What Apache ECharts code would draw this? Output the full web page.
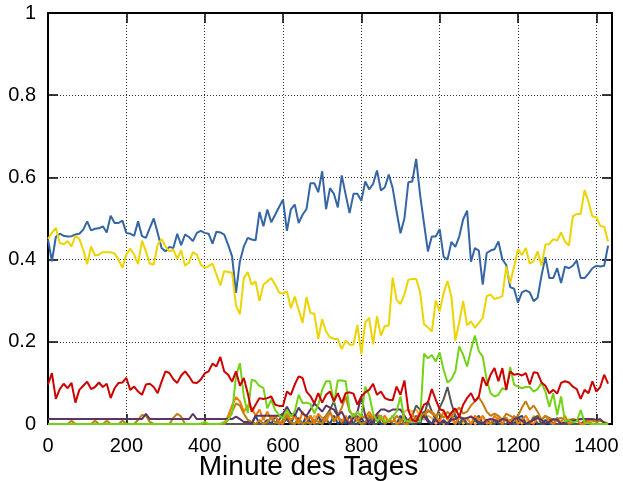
<!DOCTYPE html>
<html>
<head>
<meta charset="utf-8">
<script src="https://cdn.jsdelivr.net/npm/echarts@6/dist/echarts.min.js"></script>
<style>html,body{margin:0;padding:0;background:#fff}#c{width:623px;height:481px}</style>
</head>
<body>
<div id="c"></div>
<script>
const minutes = [0,10,20,30,40,50,60,70,80,90,100,110,120,130,140,150,160,170,180,190,200,210,220,230,240,250,260,270,280,290,300,310,320,330,340,350,360,370,380,390,400,410,420,430,440,450,460,470,480,490,500,510,520,530,540,550,560,570,580,590,600,610,620,630,640,650,660,670,680,690,700,710,720,730,740,750,760,770,780,790,800,810,820,830,840,850,860,870,880,890,900,910,920,930,940,950,960,970,980,990,1000,1010,1020,1030,1040,1050,1060,1070,1080,1090,1100,1110,1120,1130,1140,1150,1160,1170,1180,1190,1200,1210,1220,1230,1240,1250,1260,1270,1280,1290,1300,1310,1320,1330,1340,1350,1360,1370,1380,1390,1400,1410,1420,1430];

const blue = [0.449,0.396,0.455,0.463,0.458,0.456,0.457,0.461,0.463,0.473,
0.493,0.471,0.475,0.476,0.481,0.466,0.507,0.489,0.489,0.495,
0.465,0.463,0.458,0.493,0.457,0.453,0.477,0.5,0.465,0.428,
0.42,0.431,0.428,0.463,0.435,0.461,0.455,0.445,0.465,0.47,
0.465,0.463,0.439,0.468,0.466,0.461,0.436,0.408,0.319,0.396,
0.432,0.453,0.449,0.447,0.516,0.481,0.522,0.491,0.509,0.528,
0.546,0.47,0.522,0.534,0.489,0.509,0.523,0.586,0.586,0.564,
0.615,0.523,0.574,0.56,0.527,0.605,0.558,0.513,0.56,0.56,
0.543,0.59,0.571,0.584,0.617,0.568,0.576,0.607,0.574,0.517,
0.464,0.5,0.588,0.59,0.645,0.558,0.488,0.42,0.456,0.456,
0.474,0.407,0.4,0.443,0.431,0.456,0.498,0.519,0.395,0.428,
0.422,0.339,0.416,0.422,0.425,0.444,0.401,0.387,0.333,0.329,
0.295,0.32,0.325,0.32,0.299,0.307,0.361,0.406,0.355,0.355,
0.379,0.343,0.383,0.379,0.385,0.398,0.355,0.355,0.366,0.379,
0.385,0.383,0.385,0.434];

const yellow = [0.45,0.465,0.477,0.441,0.437,0.445,0.432,0.458,0.45,0.424,
0.389,0.432,0.41,0.412,0.418,0.418,0.418,0.415,0.4,0.38,
0.412,0.427,0.412,0.389,0.446,0.42,0.39,0.388,0.436,0.45,
0.432,0.42,0.424,0.402,0.423,0.385,0.393,0.418,0.412,0.388,
0.38,0.384,0.39,0.364,0.337,0.372,0.37,0.368,0.288,0.267,
0.355,0.37,0.339,0.347,0.299,0.339,0.347,0.355,0.339,0.32,
0.317,0.323,0.282,0.31,0.278,0.246,0.309,0.27,0.268,0.207,
0.255,0.225,0.211,0.207,0.207,0.182,0.203,0.193,0.193,0.241,
0.17,0.247,0.258,0.194,0.262,0.215,0.239,0.239,0.356,0.302,
0.292,0.315,0.351,0.353,0.353,0.321,0.243,0.235,0.225,0.3,
0.274,0.318,0.348,0.31,0.203,0.247,0.299,0.24,0.25,0.234,
0.246,0.258,0.311,0.315,0.304,0.307,0.311,0.383,0.343,0.383,
0.425,0.411,0.428,0.39,0.396,0.42,0.385,0.436,0.438,0.45,
0.446,0.466,0.444,0.434,0.505,0.511,0.511,0.569,0.541,0.505,
0.503,0.482,0.48,0.444];

const red = [0.096,0.124,0.061,0.085,0.098,0.087,0.1,0.052,0.083,0.093,
0.103,0.085,0.09,0.101,0.09,0.098,0.063,0.087,0.1,0.101,
0.112,0.083,0.091,0.079,0.071,0.096,0.098,0.09,0.075,0.103,
0.128,0.124,0.109,0.1,0.118,0.128,0.116,0.101,0.1,0.108,
0.123,0.128,0.147,0.14,0.163,0.128,0.12,0.103,0.128,0.093,
0.112,0.075,0.03,0.047,0.063,0.061,0.063,0.067,0.047,0.044,
0.044,0.079,0.071,0.096,0.116,0.112,0.079,0.068,0.05,0.075,
0.052,0.071,0.079,0.055,0.075,0.051,0.075,0.077,0.074,0.047,
0.067,0.077,0.083,0.098,0.071,0.079,0.063,0.059,0.058,0.091,
0.071,0.106,0.034,0.01,0.006,0.026,0.047,0.052,0.085,0.059,
0.036,0.033,0.014,0.028,0.038,0.018,0.047,0.063,0.075,0.055,
0.067,0.114,0.093,0.12,0.136,0.104,0.136,0.083,0.128,0.12,
0.122,0.118,0.124,0.096,0.126,0.124,0.101,0.093,0.075,0.083,
0.074,0.1,0.104,0.101,0.091,0.085,0.061,0.083,0.075,0.104,
0.079,0.09,0.12,0.098];

const green = [0,0,0,0,0,0,0,0,0,0,
0,0,0,0,0,0,0,0,0,0,
0,0,0,0,0,0,0,0,0,0,
0,0,0,0,0,0,0,0,0,0,
0.005,0,0,0,0,0.005,0.01,0.027,0.116,0.148,
0.067,0.027,0.108,0.104,0.092,0.088,0.038,0.059,0.034,0.022,
0.014,0.034,0.018,0.03,0.071,0.051,0.052,0.049,0.026,0.047,
0.083,0.104,0.104,0.051,0.106,0.106,0.104,0.034,0.018,0.03,
0.018,0.091,0.071,0.026,0.006,0.018,0.006,0.01,0.018,0.03,
0.067,0.01,0.006,0.004,0.006,0.006,0.171,0.16,0.168,0.152,
0.174,0.132,0.101,0.109,0.128,0.189,0.168,0.14,0.181,0.215,
0.177,0.164,0.108,0.075,0.067,0.071,0.087,0.083,0.138,0.096,
0.091,0.087,0.09,0.09,0.079,0.085,0.1,0.079,0.042,0.075,
0.022,0.067,0.006,0.01,0.004,0.006,0.034,0.004,0.002,0,
0,0,0,0];

const purple = [0.012,0.012,0.012,0.012,0.012,0.012,0.012,0.012,0.012,0.012,
0.012,0.012,0.012,0.012,0.012,0.012,0.012,0.012,0.012,0.012,
0.012,0.012,0.012,0.012,0.012,0.025,0.012,0.012,0.012,0.012,
0.012,0.012,0.012,0.012,0.012,0.012,0.012,0.025,0.012,0.012,
0.012,0.012,0.012,0.012,0.012,0.012,0.012,0.012,0.018,0.012,
0.005,0.005,0,0.02,0.02,0.02,0.02,0.02,0.02,0.02,
0.025,0.042,0.025,0.02,0.04,0.025,0.02,0.035,0.05,0.04,
0.03,0.045,0.04,0.035,0.02,0.03,0.01,0,0.015,0.03,
0.066,0.02,0,0.005,0.025,0.035,0.035,0.03,0.035,0.035,
0.035,0.02,0.005,0,0,0.01,0.02,0.005,0,0.01,
0,0.005,0,0.01,0.012,0.018,0.012,0.015,0.018,0.012,
0.005,0,0.01,0.012,0.01,0.005,0.012,0.01,0,0.012,
0.015,0.008,0,0.005,0.01,0.015,0.01,0,0.005,0.012,
0.01,0,0.005,0.01,0.008,0.01,0.012,0.012,0.012,0.012,
0.01,0.012,0.002,0];

const brown = [0,0,0,0,0,0,0.008,0,0,0,
0,0,0.008,0,0,0.008,0,0,0,0.008,
0,0,0,0.01,0.022,0.02,0.005,0,0,0,
0,0,0.015,0.025,0.018,0,0,0,0,0,
0,0,0,0,0,0,0.01,0.03,0.05,0.045,
0.025,0.01,0.005,0,0.01,0,0.005,0.015,0.005,0,
0.01,0.02,0.005,0,0.01,0,0.005,0,0.01,0.005,
0,0.02,0.03,0.005,0.02,0.04,0.067,0.03,0.02,0.01,
0,0.005,0.02,0.01,0.02,0.02,0,0.01,0.005,0.02,
0.01,0,0,0.01,0.015,0.02,0.025,0.03,0.03,0.02,
0.025,0.015,0.03,0.02,0.03,0.04,0.025,0.03,0.045,0.055,
0.065,0.05,0.03,0.02,0.025,0.02,0.01,0.025,0.02,0.015,
0.02,0.04,0.055,0.035,0.045,0.03,0.01,0.02,0.015,0.01,
0.012,0.015,0.01,0.01,0.012,0.01,0.012,0.01,0.01,0.008,
0.005,0.008,0.005,0];

const orange = [0,0,0,0,0,0,0,0,0,0,
0,0,0,0,0,0,0,0,0,0,
0,0,0,0,0,0,0,0,0,0,
0,0,0,0,0,0,0,0,0,0,
0,0,0,0,0,0,0.02,0.045,0.065,0.055,
0.03,0.045,0.04,0.02,0.035,0.01,0.03,0.01,0.02,0.005,
0,0.025,0.01,0.02,0,0.03,0.01,0.02,0,0.025,
0.015,0.005,0.03,0.01,0.02,0.005,0.02,0,0.025,0.01,
0.02,0.015,0.03,0.015,0.025,0.01,0.02,0.005,0.02,0,
0.005,0.02,0,0.025,0.01,0.03,0.015,0.035,0.025,0.02,
0.005,0.03,0.01,0.025,0,0.02,0.01,0.015,0,0.02,
0.01,0.02,0.005,0,0.02,0.01,0,0.015,0.005,0.02,
0,0.01,0.02,0.005,0,0.015,0.01,0.02,0.005,0,
0.01,0.005,0.02,0,0.005,0.01,0,0,0.005,0,
0,0,0,0];

const grey = [0,0,0,0,0,0,0,0,0,0,
0,0,0,0,0,0,0,0,0,0,
0,0,0,0,0,0,0,0,0,0,
0,0,0,0,0,0,0,0,0,0,
0,0,0,0,0,0,0,0,0,0,
0,0,0,0,0,0,0,0,0,0.01,
0.022,0.01,0,0,0.015,0,0,0.02,0,0,
0.01,0.02,0.035,0.055,0.02,0,0.01,0,0,0.02,
0,0,0.02,0,0,0.015,0,0.01,0,0,
0,0,0.01,0.02,0.045,0.035,0.02,0.055,0.03,0.01,
0.04,0.06,0.09,0.05,0.02,0,0.01,0,0,0.01,
0.02,0,0.005,0,0,0.012,0,0,0.01,0,
0,0.012,0,0,0.015,0.02,0,0,0.012,0,
0,0,0,0.01,0,0,0,0.008,0,0,
0,0,0,0];

const navy = [0,0,0,0,0,0,0,0,0,0,
0,0,0,0,0,0,0,0,0,0,
0,0,0,0,0,0,0,0,0,0,
0,0,0,0,0,0,0,0,0,0,
0,0,0,0,0,0,0,0,0,0,
0,0,0,0.02,0,0,0.01,0,0.02,0,
0,0.015,0,0.025,0,0,0.02,0.005,0,0.02,
0,0.01,0,0.02,0,0.01,0,0.02,0,0,
0.015,0,0.01,0,0.02,0,0,0.01,0,0,
0.02,0,0.01,0,0.02,0,0.03,0.01,0,0.02,
0,0.01,0,0.015,0.02,0,0.015,0,0,0.01,
0,0,0.01,0,0.01,0,0,0.015,0,0,
0.015,0.02,0,0,0.015,0,0,0.01,0,0,
0.015,0,0,0,0,0,0,0,0,0,
0,0,0,0];

const lightOrange = [0,0,0,0,0,0,0,0,0,0,
0,0,0,0,0,0,0,0,0,0,
0,0,0,0,0,0,0,0,0,0,
0,0,0,0,0,0,0,0,0,0,
0,0,0,0,0,0,0,0,0,0,
0,0,0,0,0,0.015,0,0.02,0,0.01,
0.025,0.01,0,0.02,0.01,0,0.015,0,0.02,0.01,
0,0.015,0,0.02,0.01,0.005,0.015,0,0.025,0,
0.01,0.02,0.025,0.01,0.02,0,0.015,0.005,0.02,0,
0.01,0.03,0.035,0.03,0.035,0.02,0.01,0.02,0.015,0,
0.01,0,0.005,0.01,0,0.015,0,0.01,0.02,0,
0.005,0.015,0,0.01,0,0.02,0,0.01,0,0.005,
0.015,0,0.01,0,0.02,0,0.01,0.005,0.015,0,
0.01,0,0,0.012,0,0.01,0,0,0.01,0,
0,0,0,0];

const xTicks = [0,200,400,600,800,1000,1200,1400];
const yTicks = [0,0.2,0.4,0.6,0.8,1];
const xTitle = 'Minute des Tages';

const seriesDefs = [
  {name:'lightOrange', data: lightOrange, color:'#fcaf3e'},
  {name:'navy', data: navy, color:'#204a87'},
  {name:'grey', data: grey, color:'#555753'},
  {name:'orange', data: orange, color:'#f57900'},
  {name:'brown', data: brown, color:'#c17d11'},
  {name:'purple', data: purple, color:'#5c3566'},
  {name:'green', data: green, color:'#73d216'},
  {name:'red', data: red, color:'#cc0000'},
  {name:'blue', data: blue, color:'#3465a4'},
  {name:'yellow', data: yellow, color:'#edd400'}
];

const font = 'Liberation Sans, Arial, sans-serif';
const chart = echarts.init(document.getElementById('c'), null, {renderer:'canvas'});
const splitStyle = {show:true, lineStyle:{color:'#333', width:1, type:[1,2]}};
chart.setOption({
  animation:false,
  backgroundColor:'#fff',
  grid:{left:48, right:11, top:13, bottom:57, containLabel:false, outerBoundsMode:'none',
    show:true, borderColor:'#000', borderWidth:2, backgroundColor:'transparent'},
  xAxis:[{
    type:'value', min:0, max:1440, interval:200, position:'bottom',
    axisLine:{show:true, onZero:false, lineStyle:{color:'#000', width:2}},
    axisTick:{show:true, inside:true, length:10, lineStyle:{color:'#000', width:1.5}},
    axisLabel:{show:true, margin:12, color:'#000', fontSize:20, fontFamily:font, showMaxLabel:false,
      formatter: v => xTicks.indexOf(v) >= 0 ? String(v) : ''},
    splitLine:splitStyle,
    name:xTitle, nameLocation:'middle', nameGap:29, nameMoveOverlap:false,
    nameTextStyle:{color:'#000', fontSize:28, fontFamily:font, padding:[0,43,0,0]}
  },{
    type:'value', min:0, max:1440, interval:200, position:'top',
    axisLine:{show:true, onZero:false, lineStyle:{color:'#000', width:2}},
    axisTick:{show:true, inside:true, length:10, lineStyle:{color:'#000', width:1.5}},
    axisLabel:{show:false}, splitLine:{show:false}
  }],
  yAxis:[{
    type:'value', min:0, max:1, interval:0.2, position:'left',
    axisLine:{show:true, onZero:false, lineStyle:{color:'#000', width:2}},
    axisTick:{show:true, inside:true, length:10, lineStyle:{color:'#000', width:1.5}},
    axisLabel:{show:true, margin:12, color:'#000', fontSize:20, fontFamily:font,
      formatter: v => { const t = yTicks.find(k => Math.abs(k - v) < 1e-9); return t === undefined ? '' : String(t); }},
    splitLine:splitStyle
  },{
    type:'value', min:0, max:1, interval:0.2, position:'right',
    axisLine:{show:true, onZero:false, lineStyle:{color:'#000', width:2}},
    axisTick:{show:true, inside:true, length:10, lineStyle:{color:'#000', width:1.5}},
    axisLabel:{show:false}, splitLine:{show:false}
  }],
  series: seriesDefs.map(s => ({
    name:s.name, type:'line', xAxisIndex:0, yAxisIndex:0,
    data: minutes.map((m,i) => [m, s.data[i]]),
    showSymbol:false, symbol:'none', smooth:false,
    lineStyle:{color:s.color, width:2}, itemStyle:{color:s.color},
    clip:true, z:2
  }))
});
</script>
</body>
</html>
